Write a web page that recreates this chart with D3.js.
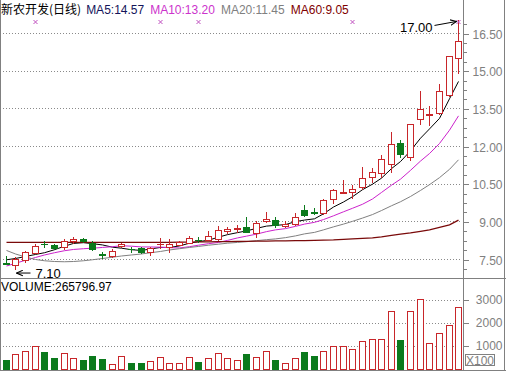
<!DOCTYPE html>
<html><head><meta charset="utf-8">
<script src="https://cdn.jsdelivr.net/npm/d3@7/dist/d3.min.js"></script>
<style>
body{margin:0;background:#fff;}
svg{display:block;font-family:"Liberation Sans",Arial,"Noto Sans CJK SC",sans-serif;}
</style></head><body>
<svg id="c" width="506" height="372"></svg>
<script>
// ---- data ----
const days = [1,2,3,4,5,6,7,8,9,10,11,12,13,14,15,16,17,18,19,20,21,22,23,24,25,26,27,28,29,30,31,32,33,34,35,36,37,38,39,40,41,42,43,44,45,46,47,48];
const open  = [7.33,7.27,7.45,7.74,8.11,8.07,7.97,8.21,8.30,8.14,7.68,7.61,8.02,7.90,7.95,7.78,8.08,7.96,8.07,8.13,8.27,8.26,8.30,8.63,8.70,8.76,8.52,9.00,9.05,8.80,8.88,9.47,9.36,9.32,9.88,10.14,10.15,10.35,10.77,10.91,11.30,12.10,11.55,13.09,13.25,13.30,14.03,15.51];
const high  = [7.62,7.57,7.81,8.10,8.20,8.10,8.30,8.36,8.34,8.20,7.79,7.90,8.15,7.97,7.97,7.97,8.34,8.28,8.22,8.42,8.37,8.62,8.80,8.78,8.85,9.18,9.00,9.38,9.18,9.02,9.32,9.65,9.52,9.88,10.27,10.64,10.44,11.15,11.11,11.64,12.55,12.24,12.89,14.20,13.60,14.46,15.59,17.00];
const low   = [7.29,7.10,7.37,7.72,7.97,7.90,7.91,8.14,8.17,7.86,7.53,7.58,7.98,7.78,7.74,7.65,7.94,7.76,8.04,8.12,8.18,8.24,8.26,8.53,8.58,8.56,8.36,8.97,8.79,8.78,8.86,9.22,9.29,9.30,9.73,10.12,9.91,10.27,10.58,10.76,10.98,11.57,11.44,12.86,12.83,13.28,14.00,14.89];
const close = [7.31,7.50,7.77,8.03,8.09,7.94,8.23,8.29,8.20,7.90,7.66,7.81,8.10,7.88,7.76,7.95,8.11,8.08,8.18,8.33,8.25,8.41,8.67,8.68,8.75,8.59,8.93,9.10,8.84,8.90,9.17,9.25,9.34,9.85,10.25,10.16,10.29,10.74,10.96,11.47,12.06,11.68,12.87,13.49,13.28,14.19,15.57,16.17];
const volume = [360,620,765,1000,710,450,665,435,360,565,420,215,550,260,260,330,480,245,245,520,275,450,695,435,360,610,480,780,360,260,435,710,535,750,1000,1000,840,1215,1300,1300,2520,1260,2520,3030,1130,1535,1870,2658];
const ma5  = [7.47,7.52,7.60,7.68,7.75,7.87,8.01,8.12,8.15,8.11,8.06,7.97,7.93,7.87,7.84,7.90,7.96,7.96,8.02,8.13,8.19,8.25,8.37,8.47,8.55,8.62,8.72,8.81,8.84,8.87,8.99,9.05,9.10,9.30,9.57,9.77,9.98,10.26,10.48,10.72,11.10,11.38,11.81,12.31,12.68,13.10,13.88,14.57];
const ma10 = [7.22,7.33,7.45,7.56,7.66,7.75,7.83,7.88,7.91,7.93,7.96,7.99,8.03,8.01,7.98,7.98,7.97,7.95,7.94,7.99,8.05,8.11,8.16,8.24,8.34,8.41,8.49,8.59,8.66,8.71,8.80,8.89,8.96,9.07,9.22,9.38,9.52,9.68,9.89,10.15,10.44,10.68,11.03,11.40,11.70,12.10,12.63,13.20];
const ma20 = [7.84,7.70,7.58,7.48,7.43,7.40,7.39,7.40,7.43,7.47,7.52,7.57,7.62,7.66,7.70,7.75,7.80,7.86,7.91,7.96,8.00,8.05,8.09,8.13,8.16,8.19,8.23,8.27,8.30,8.35,8.42,8.50,8.56,8.66,8.78,8.89,9.00,9.13,9.27,9.43,9.62,9.78,9.99,10.23,10.46,10.74,11.07,11.45];
const ma60 = [8.16,8.16,8.16,8.16,8.16,8.16,8.16,8.16,8.16,8.16,8.16,8.16,8.16,8.16,8.16,8.16,8.16,8.16,8.17,8.17,8.18,8.18,8.19,8.19,8.20,8.20,8.21,8.21,8.22,8.22,8.23,8.23,8.24,8.25,8.26,8.28,8.30,8.32,8.34,8.38,8.44,8.49,8.54,8.60,8.66,8.76,8.86,9.05];
const markerDays = [4,17,21,37,48];
const priceTicks = [7.5,9.0,10.5,12.0,13.5,15.0,16.5];
const volTicks = [1000,2000,3000];
const maLabels = ["MA5:14.57","MA10:13.20","MA20:11.45","MA60:9.05"];
const titleText = "新农开发(日线)";
const volumeText = "VOLUME:265796.97";
const highLabel = "17.00", lowLabel = "7.10";

// ---- styles ----
const RED = "#c8262a", GREEN = "#0b7a1c", GRID = "#8a8a8a", AXIS = "#808080";
const maColors = ["#000000","#cc22cc","#808080","#7a0a0a"];
const labelColors = ["#14145a","#cc33cc","#808080","#800000"];

const svg = d3.select("#c");
const x = d3.scaleBand().domain(days).range([1, 463]);
const cx = d => Math.round(x(d) + x.bandwidth()/2) + 0.5;
const y = d3.scaleLinear().domain([7.5, 16.5]).range([259, 33]);
const yv = d3.scaleLinear().domain([0, 3000]).range([368.5, 299.5]);

const data = days.map((d,i)=>({d, o:open[i], h:high[i], l:low[i], c:close[i], v:volume[i]}));

// frame
const frame = svg.append("g").attr("stroke", AXIS).attr("shape-rendering","crispEdges");
frame.append("line").attr("x1",0.5).attr("x2",0.5).attr("y1",0).attr("y2",371);
frame.append("line").attr("x1",463.5).attr("x2",463.5).attr("y1",0).attr("y2",371);
frame.append("line").attr("x1",504.5).attr("x2",504.5).attr("y1",0).attr("y2",371);
frame.append("line").attr("x1",0).attr("x2",506).attr("y1",278.5).attr("y2",278.5);
frame.append("line").attr("x1",0).attr("x2",506).attr("y1",370.5).attr("y2",370.5);

// grid
const grid = svg.append("g").attr("stroke", GRID).attr("stroke-dasharray","1,2").attr("shape-rendering","crispEdges");
grid.selectAll(".gp").data(priceTicks).join("line")
  .attr("x1",3).attr("x2",462).attr("y1",d=>Math.round(y(d))+0.5).attr("y2",d=>Math.round(y(d))+0.5);
grid.selectAll(".gv").data(volTicks).join("line")
  .attr("x1",3).attr("x2",462).attr("y1",d=>Math.round(yv(d))+0.5).attr("y2",d=>Math.round(yv(d))+0.5);

// price axis
const step = (priceTicks[1]-priceTicks[0])/4;
const minor = d3.range(priceTicks[0]-step, 17.0, step).filter(v=>!priceTicks.some(p=>Math.abs(p-v)<1e-6));
const axG = svg.append("g").attr("transform","translate(463.5,0)");
axG.call(d3.axisRight(y).tickValues(priceTicks).tickFormat(d3.format(".2f")).tickSize(5).tickSizeOuter(0));
const axMinor = svg.append("g").attr("transform","translate(463.5,0)");
axMinor.call(d3.axisRight(y).tickValues(minor).tickFormat("").tickSize(3).tickSizeOuter(0));
[axG, axMinor].forEach(g=>{
  g.select(".domain").remove();
  g.selectAll(".tick line").attr("stroke",AXIS).attr("shape-rendering","crispEdges");
  g.selectAll(".tick").attr("transform", function(){ const t=d3.select(this).attr("transform"); const m=/translate\(([^,]+),([^)]+)\)/.exec(t); return `translate(0,${Math.round(+m[2])+0.5})`; });
});
axG.selectAll(".tick text").attr("x",39).attr("text-anchor","end").attr("fill",AXIS)
  .attr("font-size",12).attr("font-family",'"Liberation Sans",Arial,sans-serif').attr("dy","0.36em");

// volume axis
const vAx = svg.append("g").attr("transform","translate(463.5,0)");
vAx.call(d3.axisRight(yv).tickValues(volTicks).tickFormat(d3.format("d")).tickSize(5).tickSizeOuter(0));
vAx.select(".domain").remove();
vAx.selectAll(".tick line").attr("stroke",AXIS).attr("shape-rendering","crispEdges");
vAx.selectAll(".tick text").attr("x",39).attr("text-anchor","end").attr("fill",AXIS)
  .attr("font-size",12).attr("font-family",'"Liberation Sans",Arial,sans-serif').attr("dy","0.36em");
svg.append("rect").attr("x",465.5).attr("y",354.5).attr("width",29).attr("height",11)
  .attr("fill","none").attr("stroke",AXIS).attr("shape-rendering","crispEdges");
svg.append("text").attr("x",480).attr("y",364.5).attr("text-anchor","middle").attr("fill",AXIS)
  .attr("font-size",12).text("X100");

// MA lines
const mas = [ma5, ma10, ma20, ma60];
const lineG = svg.append("g").attr("fill","none");
mas.forEach((arr,k)=>{
  lineG.append("path").datum(arr)
    .attr("d", d3.line().x((v,i)=>cx(days[i])).y(v=>y(v)))
    .attr("stroke", maColors[k]).attr("stroke-width", k===3?1.3:1);
});

// candles
const cg = svg.append("g").attr("shape-rendering","crispEdges");
const up = d => d.c >= d.o;
cg.selectAll(".wick").data(data).join("line")
  .attr("x1",d=>cx(d.d)).attr("x2",d=>cx(d.d))
  .attr("y1",d=>Math.round(y(d.h))).attr("y2",d=>Math.round(y(d.l))+1)
  .attr("stroke",d=>up(d)?RED:GREEN);
cg.selectAll(".body").data(data).join("rect")
  .attr("x",d=>cx(d.d)-3).attr("width",6)
  .attr("y",d=>Math.round(y(Math.max(d.o,d.c)))+0.5)
  .attr("height",d=>Math.max(0.4, Math.round(y(Math.min(d.o,d.c)))-Math.round(y(Math.max(d.o,d.c)))))
  .attr("fill",d=>up(d)?"#fff":GREEN)
  .attr("stroke",d=>up(d)?RED:GREEN);

// volume bars
const vg = svg.append("g").attr("shape-rendering","crispEdges");
vg.selectAll("rect").data(data).join("rect")
  .attr("x",d=>cx(d.d)-3).attr("width",6)
  .attr("y",d=>Math.round(yv(d.v))+0.5)
  .attr("height",d=>Math.round(yv(0))-Math.round(yv(d.v)))
  .attr("fill",d=>up(d)?"#fff":GREEN)
  .attr("stroke",d=>up(d)?RED:GREEN);

// markers
const mk = svg.append("g").attr("stroke","#c050c0").attr("stroke-width",1);
markerDays.forEach(d=>{
  const px = cx(d), py = 22;
  mk.append("path").attr("d",`M${px-2},${py-2}L${px+2},${py+2}M${px+2},${py-2}L${px-2},${py+2}`);
});

// title
const tg = svg.append("g").attr("font-size",12);
let tx = 1;
const t0 = tg.append("text").attr("x",tx).attr("y",14).attr("fill","#000")
  .attr("font-family",'"Noto Sans CJK SC","Liberation Sans",sans-serif').text(titleText);
tx += t0.node().getComputedTextLength() + 5;
maLabels.forEach((s,k)=>{
  const t = tg.append("text").attr("x",tx).attr("y",14).attr("fill",labelColors[k]).text(s);
  tx += t.node().getComputedTextLength() + 6;
});
svg.append("text").attr("x",1).attr("y",291).attr("font-size",12).attr("fill","#000").text(volumeText);

// high / low annotations
const iH = high.indexOf(d3.max(high)), iL = low.indexOf(d3.min(low));
const hx = cx(days[iH]) - 2, hy = y(high[iH]);
svg.append("defs").append("marker").attr("id","ah").attr("viewBox","0 0 10 10")
  .attr("refX",9).attr("refY",5).attr("markerWidth",7).attr("markerHeight",7).attr("orient","auto")
  .append("path").attr("d","M0,1L9,5L0,9").attr("fill","none").attr("stroke","#000").attr("stroke-width",1.5);
svg.append("line").attr("x1",hx-22).attr("y1",hy+5).attr("x2",hx).attr("y2",hy+1)
  .attr("stroke","#000").attr("marker-end","url(#ah)");
svg.append("text").attr("x",hx-24).attr("y",hy+12).attr("text-anchor","end")
  .attr("font-size",13).attr("fill","#000").text(highLabel);
const lx = cx(days[iL]) + 1, ly = y(low[iL]) + 4;
svg.append("line").attr("x1",lx+14).attr("y1",ly).attr("x2",lx).attr("y2",ly)
  .attr("stroke","#000").attr("marker-end","url(#ah)");
svg.append("text").attr("x",lx+19).attr("y",ly+4.5).attr("font-size",13).attr("fill","#000").text(lowLabel);
</script>
</body></html>
